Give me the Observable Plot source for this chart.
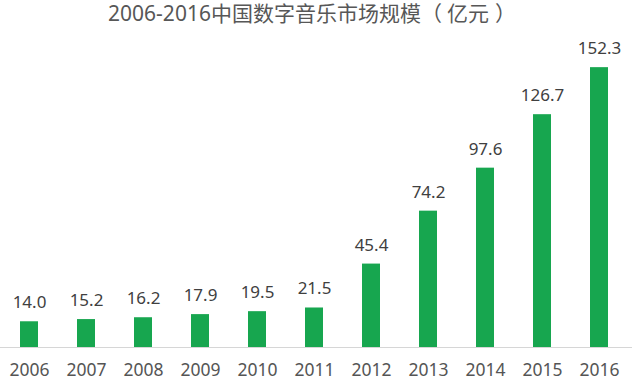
<!DOCTYPE html>
<html>
<head>
<meta charset="utf-8">
<script src="https://cdn.jsdelivr.net/npm/d3@7"></script>
<script src="https://cdn.jsdelivr.net/npm/@observablehq/plot@0.6"></script>
<style>
  html, body { margin: 0; padding: 0; background: #fff; }
  #wrap { width: 640px; height: 384px; overflow: hidden; font-family: "Noto Sans", "Noto Sans CJK SC", sans-serif; }
  #title { width: 624px; padding-right: 16px; height: 30px; line-height: 27px; text-align: center; font-size: 21px; color: #575757; white-space: nowrap; }
  #title .po { margin-right: 5px; }
  #title .pc { margin-left: 6px; }
</style>
</head>
<body>
<div id="wrap">
  <div id="title"></div>
  <div id="chart"></div>
</div>
<script>
const titleMain = "2006-2016中国数字音乐市场规模";
const titleUnit = "亿元";
const years = ["2006", "2007", "2008", "2009", "2010", "2011", "2012", "2013", "2014", "2015", "2016"];
const values = [14.0, 15.2, 16.2, 17.9, 19.5, 21.5, 45.4, 74.2, 97.6, 126.7, 152.3];

const t = d3.select("#title");
t.append("span").text(titleMain);
t.append("span").attr("class", "po").text("（");
t.append("span").text(titleUnit);
t.append("span").attr("class", "pc").text("）");

const data = years.map((y, i) => ({year: y, value: values[i]}));

const plot = Plot.plot({
  width: 640,
  height: 354,
  marginLeft: 17,
  marginRight: 29,
  marginTop: 23,
  marginBottom: 37,
  style: {fontFamily: '"Noto Sans", "Noto Sans CJK SC", sans-serif', color: "#555", background: "#fff", overflow: "visible"},
  x: {domain: years, paddingInner: 0.6875, paddingOuter: 0, label: null},
  y: {domain: [0, 160], axis: null},
  marks: [
    Plot.barY(data, {x: "year", y: "value", fill: "#17a64f"}),
    Plot.text(data, {x: "year", y: "value", text: d => d.value.toFixed(1), dy: -19, fontSize: 17, fill: "#404040"}),
    Plot.axisX({tickSize: 0, tickPadding: 16, fontSize: 17.5, fill: "#555", label: null})
  ]
});

// baseline drawn at the y scale's zero, spanning the reference's full width
const y0 = plot.scale("y").apply(0);
d3.select(plot).append("line")
  .attr("x1", 0).attr("x2", 632)
  .attr("y1", y0 + 0.5).attr("y2", y0 + 0.5)
  .attr("stroke", "#d6d6d6").attr("stroke-width", 1);

document.getElementById("chart").appendChild(plot);
</script>
</body>
</html>
